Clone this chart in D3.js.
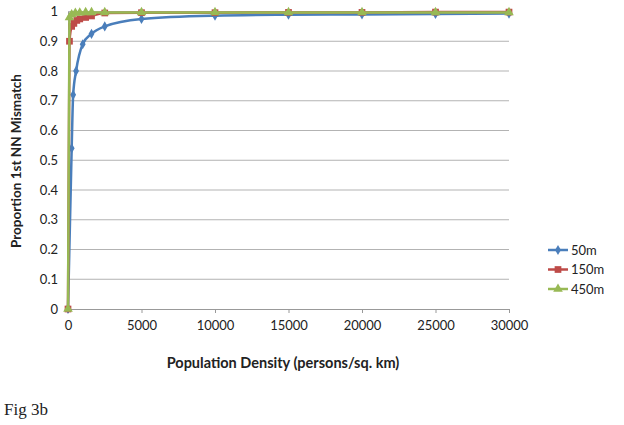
<!DOCTYPE html>
<html>
<head>
<meta charset="utf-8">
<script src="https://cdn.jsdelivr.net/npm/d3@7"></script>
<style>
  body { margin: 0; background: #fff; }
  text { fill: #222; }
</style>
</head>
<body>
<script>
// data
const density50 = [0, 250, 350, 550, 1000, 1600, 2500, 5000, 10000, 15000, 20000, 25000, 30000];
const mismatch50 = [0, 0.54, 0.72, 0.80, 0.89, 0.925, 0.95, 0.975, 0.986, 0.989, 0.99, 0.992, 0.993];

const density150 = [0, 100, 250, 400, 600, 800, 1200, 1600, 2500, 5000, 10000, 15000, 20000, 25000, 30000];
const mismatch150 = [0, 0.90, 0.95, 0.96, 0.97, 0.975, 0.98, 0.985, 0.995, 0.996, 0.996, 0.997, 0.997, 0.998, 0.998];

const density450 = [0, 100, 250, 500, 800, 1200, 1600, 2500, 5000, 10000, 15000, 20000, 25000, 30000];
const mismatch450 = [0, 0.98, 0.99, 0.995, 0.996, 0.997, 0.997, 0.997, 0.997, 0.997, 0.997, 0.997, 0.997, 0.997];

const seriesNames = ["50m", "150m", "450m"];
const seriesColors = ["#4a7ebb", "#be4b48", "#98b954"];
const xTicks = [0, 5000, 10000, 15000, 20000, 25000, 30000];
const yTicks = [0, 0.1, 0.2, 0.3, 0.4, 0.5, 0.6, 0.7, 0.8, 0.9, 1];

const series = [
  { name: seriesNames[0], color: seriesColors[0], shape: d3.symbolDiamond, size: 30, pts: density50.map((d, i) => [d, mismatch50[i]]) },
  { name: seriesNames[1], color: seriesColors[1], shape: d3.symbolSquare, size: 45, pts: density150.map((d, i) => [d, mismatch150[i]]) },
  { name: seriesNames[2], color: seriesColors[2], shape: d3.symbolTriangle, size: 40, pts: density450.map((d, i) => [d, mismatch450[i]]) }
];

const width = 624, height = 425;
const margin = { left: 68, right: 115, top: 11.5, bottom: 116 };
const sans = "Lato, 'Open Sans', sans-serif";

const svg = d3.select("body").append("svg")
  .attr("width", width)
  .attr("height", height)
  .style("font-family", sans);

const x = d3.scaleLinear().domain([0, 30000]).range([margin.left, width - margin.right]);
const y = d3.scaleLinear().domain([0, 1]).range([height - margin.bottom, margin.top]);

// horizontal gridlines
svg.selectAll(".grid")
  .data(yTicks.slice(1))
  .enter()
  .append("line")
  .attr("x1", x(0))
  .attr("x2", x(30000))
  .attr("y1", d => y(d))
  .attr("y2", d => y(d))
  .attr("stroke", "#b3b3b3")
  .attr("stroke-width", 1);

// x axis
const xAxis = svg.append("g")
  .attr("transform", `translate(0,${y(0)})`)
  .call(d3.axisBottom(x).tickValues(xTicks).tickSize(4).tickPadding(8).tickFormat(d3.format("d")));
xAxis.select(".domain").attr("stroke", "#999");
xAxis.selectAll(".tick line").attr("stroke", "#999");
xAxis.selectAll("text").style("font-size", "13px").style("font-family", sans).attr("fill", "#222");

// y axis
const yAxis = svg.append("g")
  .attr("transform", `translate(${x(0)},0)`)
  .call(d3.axisLeft(y).tickValues(yTicks).tickSize(0).tickPadding(10).tickFormat(d3.format("")));
yAxis.select(".domain").attr("stroke", "#999");
yAxis.selectAll("text").style("font-size", "13px").style("font-family", sans).attr("fill", "#222");

// lines
const line = d3.line()
  .x(d => x(d[0]))
  .y(d => y(d[1]))
  .curve(d3.curveMonotoneX);

series.forEach(s => {
  svg.append("path")
    .datum(s.pts)
    .attr("fill", "none")
    .attr("stroke", s.color)
    .attr("stroke-width", 2.5)
    .attr("d", line);

  svg.selectAll(null)
    .data(s.pts)
    .enter()
    .append("path")
    .attr("transform", d => `translate(${x(d[0])},${y(d[1])})`)
    .attr("d", d3.symbol().type(s.shape).size(s.size))
    .attr("fill", s.color);
});

// legend
const legend = svg.append("g").attr("transform", "translate(548,250)");
series.forEach((s, i) => {
  const g = legend.append("g").attr("transform", `translate(0,${i * 19.5})`);
  g.append("line").attr("x1", 0).attr("x2", 20).attr("stroke", s.color).attr("stroke-width", 2.5);
  g.append("path").attr("transform", "translate(10,0)")
    .attr("d", d3.symbol().type(s.shape).size(s.size)).attr("fill", s.color);
  g.append("text").attr("x", 23).attr("y", 4.5).style("font-size", "13px").text(s.name);
});

// axis titles
svg.append("text")
  .attr("x", 283)
  .attr("y", 368)
  .attr("text-anchor", "middle")
  .style("font-size", "14.5px")
  .attr("font-weight", "bold")
  .text("Population Density (persons/sq. km)");

svg.append("text")
  .attr("transform", "translate(21,161) rotate(-90)")
  .attr("text-anchor", "middle")
  .style("font-size", "13.5px")
  .attr("font-weight", "bold")
  .text("Proportion 1st NN Mismatch");

svg.append("text")
  .attr("x", 4)
  .attr("y", 415)
  .style("font-family", "'Liberation Serif', 'Times New Roman', serif")
  .style("font-size", "17px")
  .text("Fig 3b");
</script>
</body>
</html>
